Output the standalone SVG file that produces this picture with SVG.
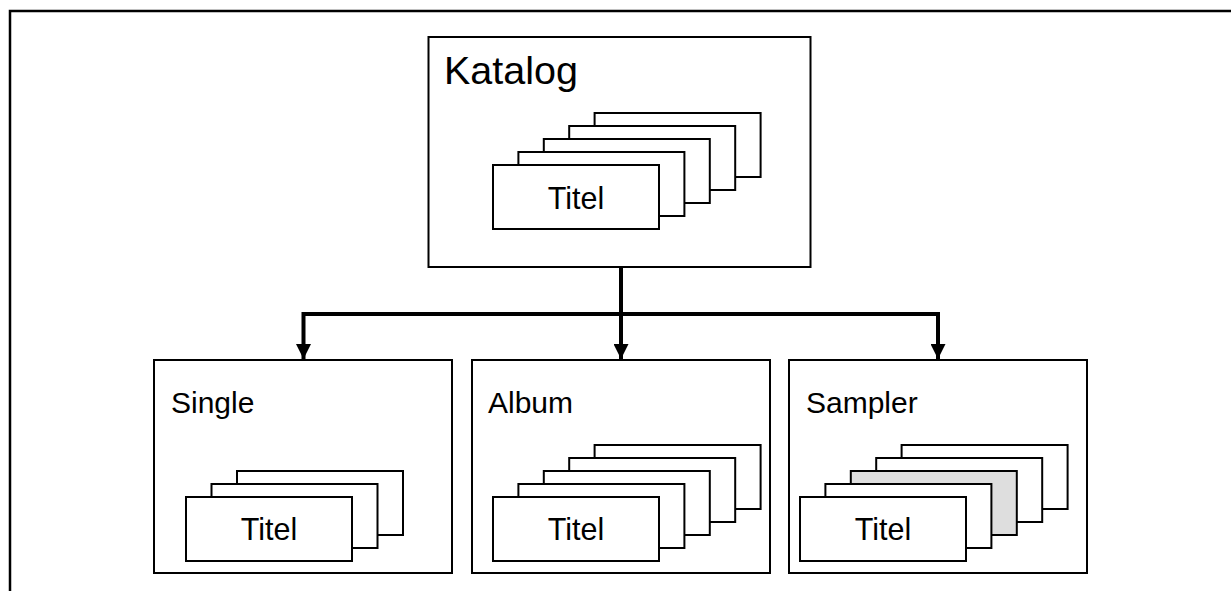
<svg xmlns="http://www.w3.org/2000/svg" width="1231" height="591" viewBox="0 0 1231 591">
<defs>
<style>
.frame{fill:none;stroke:#000;stroke-width:2.5}
.box{fill:#fff;stroke:#000;stroke-width:2}
.card{fill:#fff;stroke:#000;stroke-width:2}
.gray{fill:#dedede}
.lbl{font-family:"Liberation Sans",Arial,sans-serif;font-size:30px;fill:#000}
.ttl{font-size:30.5px}
.big{font-size:39.5px}
.conn{fill:none;stroke:#000;stroke-width:4}
</style>
<marker id="ah" markerWidth="15" markerHeight="15" refX="15" refY="7.5" orient="auto" markerUnits="userSpaceOnUse">
<path d="M0,0 L15,7.5 L0,15 Z" fill="#000"/>
</marker>
<g id="stack5">
<rect class="card" x="101.6" y="-52" width="166" height="64"/>
<rect class="card" x="76.2" y="-39" width="166" height="64"/>
<rect class="card" x="50.8" y="-26" width="166" height="64"/>
<rect class="card" x="25.4" y="-13" width="166" height="64"/>
<rect class="card" x="0" y="0" width="166" height="64"/>
</g>
</defs>
<rect width="1231" height="591" fill="#fff"/>
<path class="frame" d="M10,591 V11 H1231"/>

<g id="katalog">
<rect class="box" x="428.5" y="37" width="382" height="230"/>
<text class="lbl big" x="444" y="84">Katalog</text>
<use href="#stack5" x="493" y="165"/>
<text class="lbl ttl" x="576" y="209" text-anchor="middle">Titel</text>
</g>

<g id="single">
<rect class="box" x="154" y="360" width="298" height="213"/>
<text class="lbl" x="171" y="413">Single</text>
<rect class="card" x="237" y="471" width="166" height="64"/>
<rect class="card" x="211.5" y="484" width="166" height="64"/>
<rect class="card" x="186" y="497" width="166" height="64"/>
<text class="lbl ttl" x="269" y="540" text-anchor="middle">Titel</text>
</g>

<g id="album">
<rect class="box" x="472" y="360" width="298" height="213"/>
<text class="lbl" x="488" y="413">Album</text>
<use href="#stack5" x="493" y="497"/>
<text class="lbl ttl" x="576" y="540" text-anchor="middle">Titel</text>
</g>

<g id="sampler">
<rect class="box" x="789" y="360" width="298" height="213"/>
<text class="lbl" x="806" y="413">Sampler</text>
<rect class="card" x="901.6" y="445" width="166" height="64"/>
<rect class="card" x="876.2" y="458" width="166" height="64"/>
<rect class="card gray" x="850.8" y="471" width="166" height="64"/>
<rect class="card" x="825.4" y="484" width="166" height="64"/>
<rect class="card" x="800" y="497" width="166" height="64"/>
<text class="lbl ttl" x="883" y="540" text-anchor="middle">Titel</text>
</g>

<g id="connectors">
<path class="conn" d="M621,267 V314"/>
<path class="conn" d="M621,314 H303.5 V359" marker-end="url(#ah)"/>
<path class="conn" d="M621,314 V359" marker-end="url(#ah)"/>
<path class="conn" d="M621,314 H938 V359" marker-end="url(#ah)"/>
</g>
</svg>
